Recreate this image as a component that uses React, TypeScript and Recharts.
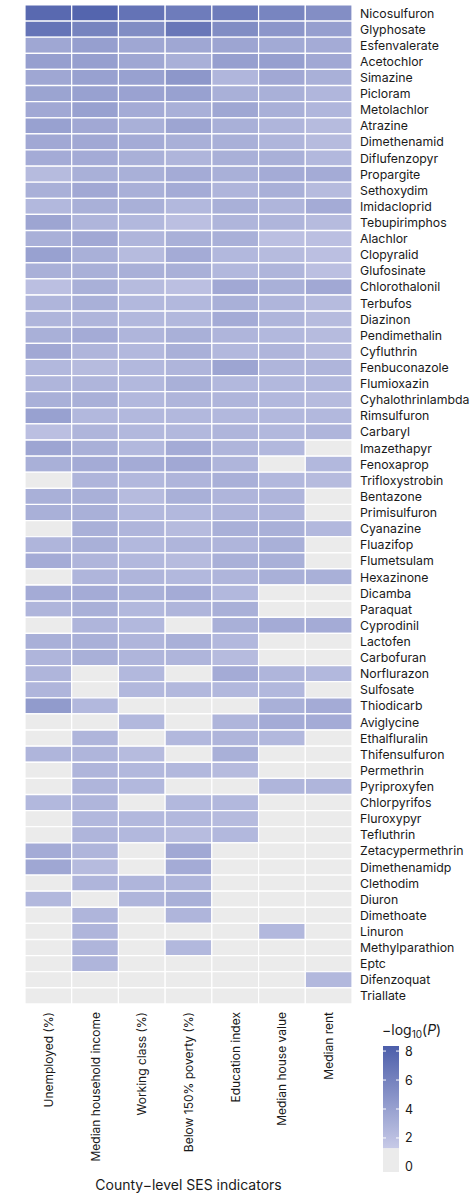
import React from 'react';
import { BarChart, Bar, XAxis, YAxis, Cell } from 'recharts';

const pesticides = [
  'Nicosulfuron', 'Glyphosate', 'Esfenvalerate', 'Acetochlor', 'Simazine', 'Picloram', 'Metolachlor', 'Atrazine',
  'Dimethenamid', 'Diflufenzopyr', 'Propargite', 'Sethoxydim', 'Imidacloprid', 'Tebupirimphos', 'Alachlor',
  'Clopyralid', 'Glufosinate', 'Chlorothalonil', 'Terbufos', 'Diazinon', 'Pendimethalin', 'Cyfluthrin',
  'Fenbuconazole', 'Flumioxazin', 'Cyhalothrinlambda', 'Rimsulfuron', 'Carbaryl', 'Imazethapyr', 'Fenoxaprop',
  'Trifloxystrobin', 'Bentazone', 'Primisulfuron', 'Cyanazine', 'Fluazifop', 'Flumetsulam', 'Hexazinone',
  'Dicamba', 'Paraquat', 'Cyprodinil', 'Lactofen', 'Carbofuran', 'Norflurazon', 'Sulfosate', 'Thiodicarb',
  'Aviglycine', 'Ethalfluralin', 'Thifensulfuron', 'Permethrin', 'Pyriproxyfen', 'Chlorpyrifos', 'Fluroxypyr',
  'Tefluthrin', 'Zetacypermethrin', 'Dimethenamidp', 'Clethodim', 'Diuron', 'Dimethoate', 'Linuron',
  'Methylparathion', 'Eptc', 'Difenzoquat', 'Triallate',
];

const indicators = [
  'Unemployed (%)', 'Median household income', 'Working class (%)', 'Below 150% poverty (%)',
  'Education index', 'Median house value', 'Median rent',
];

// -log10(P) per indicator, one value per pesticide (top to bottom)
const unemployed = [
  7.6, 6.9, 3.6, 4.1, 3.6, 3.8, 3.5, 4.0, 3.5, 3.3, 2.3, 3.0, 2.5, 3.7, 3.0, 4.0, 3.0, 2.0, 2.7, 2.7,
  3.0, 3.5, 2.5, 2.7, 3.0, 4.0, 2.0, 3.7, 3.0, 0.6, 3.0, 3.0, 0.6, 2.7, 3.3, 0.6, 3.3, 2.7, 0.6, 3.0,
  2.7, 2.7, 2.7, 4.4, 0.6, 0.6, 2.7, 0.6, 0.6, 2.5, 0.6, 0.6, 3.3, 3.6, 0.6, 2.5, 0.6, 0.6, 0.6, 0.6,
  0.6, 0.6,
];
const medianIncome = [
  7.9, 5.9, 4.1, 4.1, 4.0, 4.0, 4.0, 3.5, 3.5, 3.3, 3.0, 3.5, 3.0, 2.7, 3.5, 3.0, 3.0, 3.0, 3.0, 2.7,
  3.3, 2.7, 2.3, 2.7, 3.0, 2.5, 2.7, 3.0, 3.3, 2.7, 3.0, 3.0, 3.0, 3.0, 2.7, 2.7, 3.3, 3.0, 2.7, 3.0,
  3.0, 0.6, 0.6, 2.5, 0.6, 2.7, 2.7, 2.7, 2.7, 2.7, 2.5, 2.7, 2.7, 2.3, 2.7, 0.6, 2.7, 2.7, 2.7, 2.7,
  0.6, 0.6,
];
const workingClass = [
  7.0, 5.3, 3.6, 3.6, 4.0, 3.9, 3.3, 3.0, 3.3, 3.0, 3.0, 3.0, 3.0, 2.5, 2.7, 2.3, 3.0, 2.3, 2.5, 2.5,
  2.7, 2.5, 2.5, 2.5, 2.5, 2.5, 2.5, 2.5, 3.3, 2.5, 2.3, 2.5, 2.7, 2.5, 2.5, 2.7, 3.0, 2.5, 2.5, 2.7,
  2.7, 2.5, 2.5, 0.6, 2.5, 0.6, 2.3, 2.5, 2.5, 0.6, 2.5, 2.5, 0.6, 0.6, 2.7, 2.7, 0.6, 0.6, 0.6, 0.6,
  0.6, 0.6,
];
const belowPoverty = [
  6.4, 6.7, 3.6, 3.0, 4.6, 4.0, 3.0, 3.7, 3.0, 2.7, 3.3, 3.3, 2.5, 2.0, 3.0, 3.3, 3.0, 2.0, 2.5, 2.5,
  3.0, 3.0, 2.7, 3.0, 2.7, 2.5, 2.5, 3.3, 3.5, 2.7, 3.0, 2.5, 2.3, 2.7, 2.3, 2.5, 3.3, 2.7, 0.6, 3.0,
  2.7, 0.6, 2.5, 0.6, 0.6, 2.5, 0.6, 2.5, 0.6, 2.5, 2.5, 2.2, 3.5, 3.3, 2.7, 3.0, 2.7, 0.6, 2.5, 0.6,
  0.6, 0.6,
];
const educationIndex = [
  6.4, 5.3, 3.7, 4.1, 2.6, 3.0, 3.6, 3.0, 3.0, 3.0, 3.0, 2.7, 3.0, 2.7, 3.0, 2.5, 2.5, 3.5, 3.0, 3.3,
  2.7, 2.5, 3.7, 2.5, 2.7, 2.5, 2.7, 2.7, 2.7, 3.0, 2.7, 2.7, 3.0, 2.7, 3.0, 2.7, 2.5, 3.0, 3.0, 2.5,
  2.3, 3.3, 2.5, 0.6, 2.7, 2.7, 3.0, 2.3, 0.6, 2.5, 2.3, 2.5, 0.6, 0.6, 0.6, 0.6, 0.6, 0.6, 0.6, 0.6,
  0.6, 0.6,
];
const medianHouseValue = [
  5.8, 4.7, 3.4, 4.1, 3.5, 3.0, 3.0, 2.7, 2.7, 3.0, 3.3, 3.0, 2.7, 2.7, 2.0, 2.3, 2.7, 3.0, 2.7, 2.7,
  2.5, 2.7, 2.7, 2.5, 2.5, 2.5, 2.5, 2.5, 0.6, 2.5, 2.7, 2.7, 3.0, 3.0, 3.0, 3.0, 0.6, 0.6, 3.3, 0.6,
  0.6, 2.7, 2.5, 3.0, 3.3, 2.5, 0.6, 0.6, 2.7, 0.6, 0.6, 0.6, 0.6, 0.6, 0.6, 0.6, 0.6, 2.5, 0.6, 0.6,
  0.6, 0.6,
];
const medianRent = [
  5.2, 4.1, 3.3, 3.5, 3.0, 2.6, 2.6, 2.3, 2.3, 2.5, 3.3, 2.3, 3.3, 2.3, 2.0, 2.0, 2.0, 3.5, 2.3, 2.3,
  2.3, 2.3, 2.7, 2.5, 2.3, 2.5, 2.7, 0.6, 2.5, 2.3, 0.6, 0.6, 2.5, 0.6, 0.6, 3.0, 0.6, 0.6, 3.3, 0.6,
  0.6, 2.5, 0.6, 3.3, 3.3, 0.6, 0.6, 0.6, 2.7, 0.6, 0.6, 0.6, 0.6, 0.6, 0.6, 0.6, 0.6, 0.6, 0.6, 0.6,
  2.5, 0.6,
];

const legendTicks = [0, 2, 4, 6, 8];

const seriesValues = [unemployed, medianIncome, workingClass, belowPoverty, educationIndex, medianHouseValue, medianRent];

const THRESHOLD = 1.3;
const VMAX = 8.35;
const VMIN = -0.35;
const LOW = [199, 202, 231];
const HIGH = [76, 94, 170];
const GRAY = '#ebebeb';
const FONT = 'Inter, "Noto Sans", sans-serif';
const TEXT = '#1a1a1a';

function fillFor(v: number): string {
  if (v < THRESHOLD) return GRAY;
  const t = Math.max(0, Math.min(1, (v - THRESHOLD) / (VMAX - THRESHOLD)));
  const c = LOW.map((l, i) => Math.round(l + (HIGH[i] - l) * t));
  return `rgb(${c[0]},${c[1]},${c[2]})`;
}

const rows = pesticides.map((name, r) => {
  const row: Record<string, any> = { name };
  seriesValues.forEach((vals, i) => {
    row[`c${i}`] = 1;
    row[`v${i}`] = vals[r];
  });
  return row;
});

const XTick = (props: any) => {
  const { x, y, payload } = props;
  const idx = Math.floor(payload.value);
  return (
    <text
      transform={`translate(${x},${y}) rotate(-90)`}
      textAnchor="end"
      dominantBaseline="central"
      fontSize={12}
      fontFamily={FONT}
      fill={TEXT}
    >
      {indicators[idx]}
    </text>
  );
};

const YTick = (props: any) => {
  const { x, y, payload } = props;
  return (
    <text x={x} y={y} dominantBaseline="central" textAnchor="start" fontSize={12.3} fontFamily={FONT} fill={TEXT}>
      {payload.value}
    </text>
  );
};

const ColorBar = () => {
  const top = 1046;
  const bottom = 1172;
  const sy = (v: number) => bottom - ((v - VMIN) / (VMAX - VMIN)) * (bottom - top);
  const stops = [THRESHOLD, 2, 3, 4, 5, 6, 7, 8, VMAX];
  const x0 = 383;
  const w = 16;
  return (
    <svg width={475} height={1200} style={{ position: 'absolute', left: 0, top: 0, pointerEvents: 'none' }}>
      <defs>
        <linearGradient id="cbgrad" x1="0" y1="1" x2="0" y2="0">
          {stops.map((s) => (
            <stop key={s} offset={(s - THRESHOLD) / (VMAX - THRESHOLD)} stopColor={fillFor(s)} />
          ))}
        </linearGradient>
      </defs>
      <rect x={x0} y={sy(THRESHOLD)} width={w} height={sy(VMIN) - sy(THRESHOLD)} fill={GRAY} />
      <rect x={x0} y={sy(VMAX)} width={w} height={sy(THRESHOLD) - sy(VMAX)} fill="url(#cbgrad)" />
      {legendTicks.map((t) => (
        <g key={t}>
          {t >= 2 && (
            <>
              <line x1={x0} x2={x0 + 3} y1={sy(t)} y2={sy(t)} stroke="#fff" strokeWidth={1} />
              <line x1={x0 + w - 3} x2={x0 + w} y1={sy(t)} y2={sy(t)} stroke="#fff" strokeWidth={1} />
            </>
          )}
          <text x={x0 + w + 6} y={sy(t)} dominantBaseline="central" fontSize={12.5} fontFamily={FONT} fill={TEXT}>
            {t}
          </text>
        </g>
      ))}
      <text x={x0 - 1} y={1035} fontSize={14} fontFamily={FONT} fill={TEXT}>
        −log
        <tspan fontSize={10} dy={3}>10</tspan>
        <tspan dy={-3}>(</tspan>
        <tspan fontStyle="italic">P</tspan>
        <tspan>)</tspan>
      </text>
    </svg>
  );
};

export default function App() {
  return (
    <div style={{ position: 'relative', width: 475, height: 1200, background: '#fff' }}>
      <style>{'body{margin:0;}'}</style>
      <BarChart
        width={475}
        height={1200}
        data={rows}
        layout="vertical"
        margin={{ top: 5, left: 25, right: 0, bottom: 0 }}
        barCategoryGap={0}
        barGap={0}
      >
        <XAxis
          type="number"
          domain={[0, 7]}
          ticks={[0.5, 1.5, 2.5, 3.5, 4.5, 5.5, 6.5]}
          height={196}
          axisLine={false}
          tickLine={false}
          tick={<XTick />}
          interval={0}
          label={{ value: 'County−level SES indicators', position: 'insideBottom', offset: 10, fontSize: 14, fontFamily: FONT, fill: TEXT }}
        />
        <YAxis
          type="category"
          dataKey="name"
          orientation="right"
          width={123}
          axisLine={false}
          tickLine={false}
          tick={<YTick />}
          interval={0}
        />
        {seriesValues.map((vals, i) => (
          <Bar key={i} dataKey={`c${i}`} stackId="grid" stroke="#fff" strokeWidth={1.2} isAnimationActive={false}>
            {vals.map((v, r) => (
              <Cell key={r} fill={fillFor(v)} />
            ))}
          </Bar>
        ))}
      </BarChart>
      <ColorBar />
    </div>
  );
}
